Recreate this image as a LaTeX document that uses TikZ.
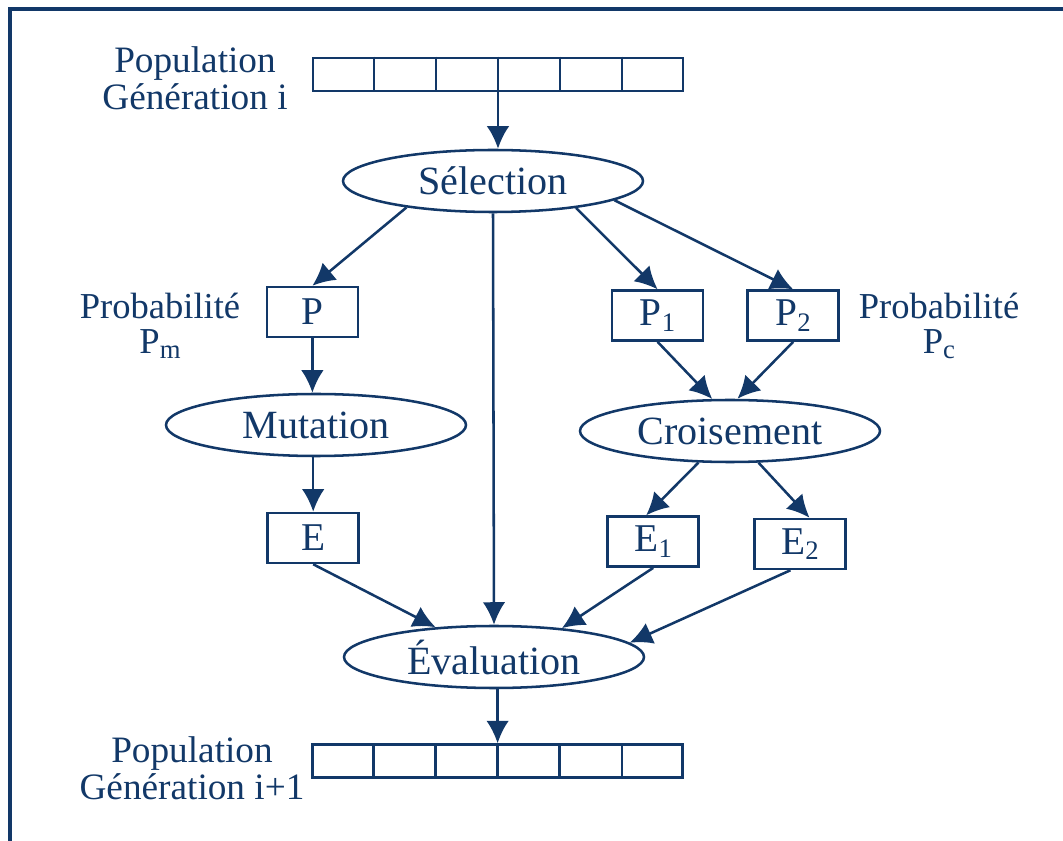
\documentclass[tikz,border=0pt]{standalone}
\usepackage{fontspec}
\setmainfont{Liberation Serif}
\usetikzlibrary{shapes.geometric,arrows.meta,calc}
\definecolor{navy}{RGB}{18,56,104}
\newcommand{\idx}[1]{\raisebox{-0.3ex}{\fontsize{19}{19}\selectfont #1}}

\begin{document}
\begin{tikzpicture}[color=navy, line width=1.8pt,
  oval/.style={draw, ellipse, minimum width=7.5cm, minimum height=1.55cm, inner sep=0pt, font=\fontsize{28.5}{30}\selectfont},
  box/.style={draw, rectangle, minimum width=2.275cm, minimum height=1.25cm, inner sep=0pt, font=\fontsize{28}{30}\selectfont},
  popbar/.style={draw, rectangle, minimum width=9.25cm, minimum height=0.82cm, inner sep=0pt},
  lbl/.style={align=center, font=\fontsize{26.5}{26}\selectfont},
  prob/.style={align=center, font=\fontsize{26}{25}\selectfont},
  arr/.style={-{Latex[length=16pt,width=16pt]}}]
\useasboundingbox (0,0) rectangle (26.575,-21.025);
\draw[line width=2.6pt] (26.575,-0.225) -- (0.25,-0.225) -- (0.25,-21.025);

\node[popbar] (popi) at (12.45,-1.86) {};
\node[lbl] (lpopi) at (4.875,-1.95) {Population\\Génération i};
\node[oval] (sel) at (12.325,-4.525) {Sélection};
\node[box] (P) at (7.81,-7.8) {P};
\node[prob] (pm) at (4.0,-8.15) {Probabilité\\P\idx{m}};
\node[oval] (mut) at (7.9,-10.625) {Mutation};
\node[box] (E) at (7.83,-13.45) {E};
\node[box] (P1) at (16.44,-7.89) {P\idx{1}};
\node[box] (P2) at (19.83,-7.89) {P\idx{2}};
\node[prob] (pc) at (23.475,-8.15) {Probabilité\\P\idx{c}};
\node[oval] (cro) at (18.25,-10.775) {Croisement};
\node[box] (E1) at (16.33,-13.54) {E\idx{1}};
\node[box] (E2) at (20.0,-13.6) {E\idx{2}};
\node[oval] (eval) at (12.35,-16.425) {Évaluation};
\node[popbar] (popn) at (12.44,-19.025) {};
\node[lbl] (lpopn) at (4.8,-19.2) {Population\\Génération i+1};

\foreach \n in {popi,popn}
\foreach \k in {1,2,3,4,5}
\draw ($(\n.north west)!\k/6!(\n.north east)$) -- ($(\n.south west)!\k/6!(\n.south east)$);

\draw[arr] (popi.south) -- (popi.south |- sel.north);
\draw[arr] (sel.197) -- (P.north);
\draw[arr] (sel.south) -- (eval.north);
\draw[arr] (sel.342) -- (P1.north);
\draw[arr] (sel.351) -- (P2.north);
\draw[arr] (P.south) -- (P.south |- mut.north);
\draw[arr] (E.north |- mut.south) -- (E.north);
\draw[arr] (P1.south) -- (cro.119);
\draw[arr] (P2.south) -- (cro.77);
\draw[arr] (cro.225) -- (E1.105);
\draw[arr] (cro.312) -- (E2.70);
\draw[arr] (E.south) -- (eval.153);
\draw[arr] (E1.south) -- (eval.23);
\draw[arr] (E2.250) -- (eval.6);
\draw[arr] (popn.north |- eval.south) -- (popn.north);
\end{tikzpicture}
\end{document}
